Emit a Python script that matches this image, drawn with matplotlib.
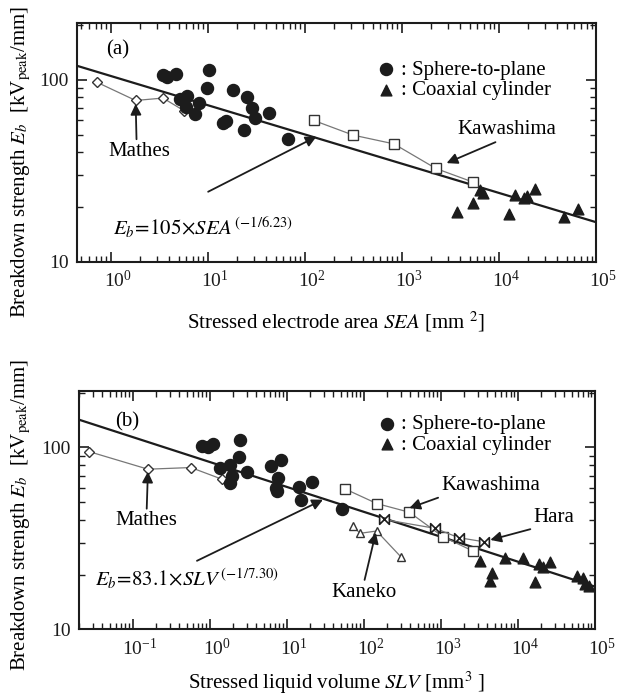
import numpy as np
import matplotlib
matplotlib.use('Agg')
import matplotlib.pyplot as plt
import matplotlib.transforms as mtransforms
from matplotlib.ticker import (LogLocator, NullFormatter, FixedLocator,
                               FixedFormatter, LogFormatterSciNotation)
from matplotlib.path import Path

plt.rcParams['font.family'] = ['Liberation Serif', 'DejaVu Serif']
plt.rcParams['mathtext.fontset'] = 'stix'

# ---- panel (a): stressed electrode area SEA [mm^2] ----
a_mathes_x = [0.72, 1.81, 3.46, 5.66]
a_mathes_y = [97, 77, 79.4, 67.8]
a_sphere_x = [3.46, 3.80, 4.68, 10.2, 9.77, 5.14, 6.18, 6.03, 7.35, 8.13,
              14.4, 15.6, 18.0, 23.7, 25.2, 28.6, 31.0, 42.3, 67.9]
a_sphere_y = [105.6, 103.5, 107.9, 113.5, 90.4, 78.9, 81.7, 70.8, 64.8, 75.0,
              57.8, 59.7, 87.8, 52.9, 80.3, 70.2, 61.8, 66.1, 47.2]
a_kawa_x = [124, 315, 827, 2243, 5355]
a_kawa_y = [59.8, 49.7, 44.5, 32.6, 27.5]
a_coax_x = [3664, 5355, 6368, 6795, 12680, 14620, 18110, 19290, 23670, 47130, 64720]
a_coax_y = [18.7, 21.2, 24.9, 23.8, 18.4, 23.3, 22.4, 22.9, 25.1, 17.6, 19.5]
a_fit_k, a_fit_n = 105, 6.23
a_xticks = [1e0, 1e1, 1e2, 1e3, 1e4, 1e5]

# ---- panel (b): stressed liquid volume SLV [mm^3] ----
b_mathes_x = [0.0273, 0.157, 0.567, 1.43]
b_mathes_y = [94.7, 75.9, 77.5, 66.9]
b_sphere_x = [0.789, 0.942, 1.10, 1.34, 1.80, 1.91, 1.80, 2.48, 2.37, 3.00,
              6.24, 7.71, 8.38, 7.27, 7.44, 14.3, 15.1, 21.5, 52.2]
b_sphere_y = [102, 100.4, 104.3, 76.8, 80.1, 69.2, 63.7, 109.6, 88.9, 72.8,
              79.4, 68.3, 85.3, 59.7, 57.3, 60.5, 51.6, 64.4, 45.9]
b_kawa_x = [57.4, 147.6, 389, 1061, 2570]
b_kawa_y = [59.0, 49.1, 44.0, 32.3, 27.0]
b_hara_x = [180, 838, 1702, 3580]
b_hara_y = [40.2, 35.9, 31.9, 30.3]
b_kaneko_x = [72.7, 88.9, 146, 300]
b_kaneko_y = [36.9, 33.7, 34.7, 25.1]
b_coax_x = [3184, 4642, 4275, 6770, 11660, 16620, 18700, 21040, 25700,
            58750, 70150, 74500, 83700]
b_coax_y = [23.8, 20.3, 18.5, 24.8, 24.8, 18.1, 22.8, 22.1, 23.3,
            19.7, 19.1, 17.7, 17.4]
b_fit_k, b_fit_n = 83.1, 7.30
b_xticks = [1e-1, 1e0, 1e1, 1e2, 1e3, 1e4, 1e5]

bowtie = Path([(-1, -1), (-1, 1), (1, -1), (1, 1), (-1, -1)],
              [Path.MOVETO, Path.LINETO, Path.LINETO, Path.LINETO, Path.CLOSEPOLY])

FS = 15
INK = '#1c1c1c'
arrow = dict(arrowstyle='-|>', color=INK, lw=1.3, mutation_scale=16,
             shrinkA=0, shrinkB=0)


def style_axes(ax, xlim, xticks):
    ax.set_xscale('log')
    ax.set_yscale('log')
    ax.set_xlim(*xlim)
    ax.set_ylim(10, 205)
    ax.xaxis.set_major_locator(FixedLocator(xticks))
    ax.xaxis.set_major_formatter(LogFormatterSciNotation())
    ax.xaxis.set_minor_locator(LogLocator(base=10, subs=np.arange(2, 10), numticks=20))
    ax.xaxis.set_minor_formatter(NullFormatter())
    ax.yaxis.set_major_locator(FixedLocator([10, 100]))
    ax.yaxis.set_major_formatter(FixedFormatter(['10', '100']))
    ax.yaxis.set_minor_locator(LogLocator(base=10, subs=np.arange(2, 10), numticks=20))
    ax.yaxis.set_minor_formatter(NullFormatter())
    ax.tick_params(which='both', direction='in', top=True, right=True,
                   labelsize=14, colors=INK, pad=6)
    ax.tick_params(which='major', length=7, width=1.2)
    ax.tick_params(which='minor', length=4, width=1.0)
    for s in ax.spines.values():
        s.set_linewidth(1.5)
        s.set_color(INK)
    # the "10" of each label sits on its tick, exponent hangs to the right
    shift = mtransforms.ScaledTranslation(5 / 72, 0, ax.figure.dpi_scale_trans)
    for lab in ax.get_xticklabels():
        lab.set_transform(lab.get_transform() + shift)


def fit_line(ax, k, n):
    xs = np.logspace(np.log10(ax.get_xlim()[0]), np.log10(ax.get_xlim()[1]), 50)
    ax.plot(xs, k * xs ** (-1.0 / n), color=INK, lw=1.6, zorder=2)


def legend(ax, top):
    h1 = ax.scatter([], [], s=75, c=INK, marker='o')
    h2 = ax.scatter([], [], s=60, c=INK, marker='^')
    ax.legend([h1, h2], [': Sphere-to-plane', ': Coaxial cylinder'],
              loc='upper left', bbox_to_anchor=(0.58, top), frameon=False,
              fontsize=FS, handlelength=0.8, handletextpad=0.3,
              labelspacing=0.05, borderpad=0, borderaxespad=0)


fig = plt.figure(figsize=(6.18, 6.98), dpi=100)

# ---------------- panel (a) ----------------
ax1 = fig.add_axes([77 / 618, 1 - 262 / 698, 519 / 618, 239 / 698])
style_axes(ax1, (0.45, 1e5), a_xticks)
fit_line(ax1, a_fit_k, a_fit_n)
ax1.plot(a_mathes_x, a_mathes_y, color='#777777', lw=0.9, marker='D', ms=5,
         mfc='white', mec='#333333', mew=1.0, zorder=3)
ax1.plot(a_kawa_x, a_kawa_y, color='#777777', lw=0.9, marker='s', ms=7,
         mfc='white', mec='#333333', mew=1.0, zorder=3)
ax1.scatter(a_sphere_x, a_sphere_y, s=75, c=INK, marker='o', zorder=4)
ax1.scatter(a_coax_x, a_coax_y, s=60, c=INK, marker='^', zorder=4)
legend(ax1, 0.845)

ax1.text(1.18, 146, '(a)', fontsize=FS, ha='center', va='center')
ax1.annotate('Mathes', xy=(1.81, 73.8), xytext=(1.99, 40.4), fontsize=FS,
             ha='center', va='center', arrowprops=dict(arrow, relpos=(0.45, 1.0)))
ax1.annotate('', xy=(132, 48.8), xytext=(10.1, 24.3), arrowprops=arrow)
ax1.text(1.05, 15.4, r'$E_b\!=\!105\!\times\!SEA^{\,(\mathrm{-1/6.23})}$',
         fontsize=FS, ha='left', va='center')
ax1.annotate('Kawashima', xy=(2890, 34.9), xytext=(12080, 53.1), fontsize=FS,
             ha='center', va='center', arrowprops=dict(arrow, relpos=(0.45, 0.0)))
ax1.set_xlabel(r'Stressed electrode area $SEA$ [mm $^{2}$]', fontsize=FS, labelpad=13)

# ---------------- panel (b) ----------------
ax2 = fig.add_axes([79 / 618, 1 - 629.3 / 698, 516 / 618, 238.6 / 698])
style_axes(ax2, (0.02, 1e5), b_xticks)
fit_line(ax2, b_fit_k, b_fit_n)
ax2.plot(b_mathes_x, b_mathes_y, color='#777777', lw=0.9, marker='D', ms=5,
         mfc='white', mec='#333333', mew=1.0, zorder=3)
ax2.plot(b_kawa_x, b_kawa_y, color='#777777', lw=0.9, marker='s', ms=7,
         mfc='white', mec='#333333', mew=1.0, zorder=3)
ax2.plot(b_hara_x, b_hara_y, color='#777777', lw=0.9, marker=bowtie, ms=7,
         mfc='white', mec=INK, mew=1.2, zorder=3)
ax2.plot(b_kaneko_x, b_kaneko_y, color='#777777', lw=0.9, marker='^', ms=6,
         mfc='white', mec='#333333', mew=1.0, zorder=3)
ax2.scatter(b_sphere_x, b_sphere_y, s=75, c=INK, marker='o', zorder=4)
ax2.scatter(b_coax_x, b_coax_y, s=60, c=INK, marker='^', zorder=4)
legend(ax2, 0.9)

ax2.text(0.0838, 138, '(b)', fontsize=FS, ha='center', va='center')
ax2.annotate('Mathes', xy=(0.157, 73.6), xytext=(0.151, 39.4), fontsize=FS,
             ha='center', va='center', arrowprops=dict(arrow, relpos=(0.5, 1.0)))
ax2.annotate('', xy=(29.4, 51.6), xytext=(0.68, 23.8), arrowprops=arrow)
ax2.text(0.032, 18.9, r'$E_b\!=\!83.1\!\times\!SLV^{\,(\mathrm{-1/7.30})}$',
         fontsize=FS, ha='left', va='center')
ax2.annotate('Kawashima', xy=(389, 46.4), xytext=(4375, 61.8), fontsize=FS,
             ha='center', va='center', arrowprops=dict(arrow, relpos=(0.05, 0.0)))
ax2.annotate('Hara', xy=(4375, 31.0), xytext=(28960, 41.0), fontsize=FS,
             ha='center', va='center', arrowprops=dict(arrow, relpos=(0.1, 0.0)))
ax2.annotate('Kaneko', xy=(142.6, 34.0), xytext=(100, 16.0), fontsize=FS,
             ha='center', va='center', arrowprops=dict(arrow, relpos=(0.5, 1.0)))
ax2.set_xlabel(r'Stressed liquid volume $SLV$ [mm$^{3}$ ]', fontsize=FS, labelpad=8)

ylab = r'Breakdown strength $E_b$  [kV$_{\mathrm{peak}}$/mm]'
fig.text(21 / 618, 1 - 162 / 698, ylab, rotation=90, fontsize=FS, ha='center', va='center')
fig.text(21 / 618, 1 - 515 / 698, ylab, rotation=90, fontsize=FS, ha='center', va='center')

fig.savefig('out.png', dpi=100)
